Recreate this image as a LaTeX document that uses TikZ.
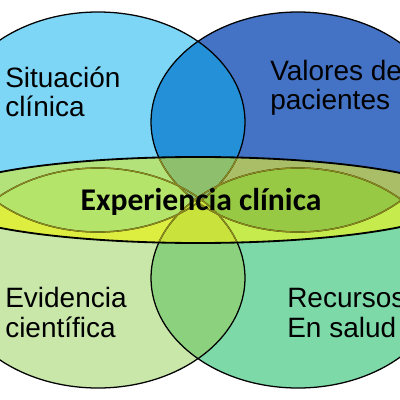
\documentclass[tikz,border=0pt]{standalone}
\usepackage{fontspec}
\setmainfont{Liberation Sans}
\newfontfamily\centrefont{Carlito}
\definecolor{sitcol}{HTML}{7DD6F6}
\definecolor{valcol}{HTML}{4472C4}
\definecolor{sitval}{HTML}{2390D8}
\definecolor{evicol}{HTML}{C8E7A9}
\definecolor{reccol}{HTML}{7DD9A8}
\definecolor{evirec}{HTML}{8CD17D}
\definecolor{expcol}{HTML}{D0EA3C}
\definecolor{expsit}{HTML}{B3E27A}
\definecolor{expval}{HTML}{A9BE66}
\definecolor{expevi}{HTML}{DDEE40}
\definecolor{exprec}{HTML}{C6EB4C}
\definecolor{expleft}{HTML}{B4E46A}
\definecolor{expright}{HTML}{98C945}
\definecolor{exptop}{HTML}{8EBF6C}
\definecolor{expbot}{HTML}{C9E23C}
\definecolor{innerline}{HTML}{8C8A1E}
\tikzset{
  label/.style={anchor=base west, inner sep=0pt, align=left,
    font=\fontsize{19.9}{21.3}\selectfont},
  edge/.style={draw=black, line width=0.9pt},
  inneredge/.style={draw=innerline, line width=0.9pt}
}
\newcommand{\sitshape}{(98,122) ellipse [x radius=147, y radius=110]}
\newcommand{\valshape}{(298,122) ellipse [x radius=147, y radius=110]}
\newcommand{\evishape}{(98,278) ellipse [x radius=147, y radius=110]}
\newcommand{\recshape}{(298,278) ellipse [x radius=147, y radius=110]}
\newcommand{\expshape}{(198,200) ellipse [x radius=260, y radius=43]}
\begin{document}
\begin{tikzpicture}[x=0.025cm, y=-0.025cm]
    \useasboundingbox (0,0) rectangle (400,400);

    % Circles
    \fill[sitcol] \sitshape;
    \fill[valcol] \valshape;
    \fill[evicol] \evishape;
    \fill[reccol] \recshape;
    \begin{scope}
        \clip \sitshape;
        \fill[sitval] \valshape;
    \end{scope}
    \begin{scope}
        \clip \evishape;
        \fill[evirec] \recshape;
    \end{scope}

    % Band across the middle
    \begin{scope}
        \clip \expshape;
        \fill[expcol] \expshape;
        \fill[expsit] \sitshape;
        \fill[expval] \valshape;
        \fill[expevi] \evishape;
        \fill[exprec] \recshape;
        \begin{scope} \clip \sitshape; \fill[expleft] \evishape; \end{scope}
        \begin{scope} \clip \valshape; \fill[expright] \recshape; \end{scope}
        \begin{scope} \clip \sitshape; \fill[exptop] \valshape; \end{scope}
        \begin{scope} \clip \evishape; \fill[expbot] \recshape; \end{scope}
    \end{scope}

    % Outlines
    \path[edge] \sitshape \valshape \evishape \recshape;
    \begin{scope}
        \clip \expshape;
        \path[inneredge] \sitshape \valshape \evishape \recshape;
    \end{scope}
    \draw[black, line width=1.3pt] \expshape;

    % Labels (base = last line)
    \node[label] (sit) at (5,117) {Situación\\clínica};
    \node[label] (val) at (270,110) {Valores de\\pacientes};
    \node[label] (evi) at (5,337) {Evidencia\\científica};
    \node[label] (rec) at (287,337) {Recursos\\En salud};
    \node[font=\centrefont\bfseries\fontsize{22.5}{24}\selectfont, inner sep=0pt] (exp) at (201,202) {Experiencia clínica};
\end{tikzpicture}
\end{document}
